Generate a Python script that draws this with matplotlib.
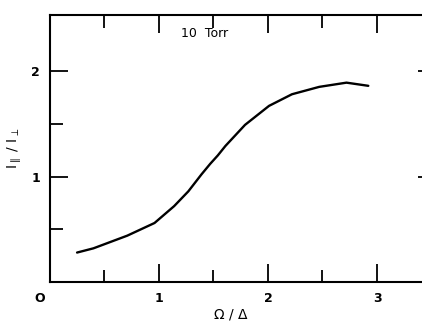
import numpy as np
import matplotlib.pyplot as plt
import matplotlib.transforms as mtransforms
from matplotlib.ticker import FixedLocator

# curve
omega = [0.25, 0.40, 0.71, 0.96, 1.14, 1.27, 1.39, 1.47, 1.54, 1.61, 1.79,
         2.01, 2.22, 2.47, 2.72, 2.92]
ratio = [0.28, 0.32, 0.44, 0.56, 0.72, 0.86, 1.02, 1.12, 1.20, 1.29, 1.49,
         1.67, 1.78, 1.85, 1.89, 1.86]
xticks = [0, 1, 2, 3]
xticklabels = ['O', '1', '2', '3']
xminor = [0.5, 1.5, 2.5]
yticks = [1, 2]
yticklabels = ['1', '2']
yminor = [0.5, 1.5]

fig = plt.figure(figsize=(4.22, 3.25), dpi=100)
ax = fig.add_axes([0.118, 0.132, 0.915, 0.8215])

ax.plot(omega, ratio, color='black', lw=1.7, solid_capstyle='round')

ax.set_xlim(0, 3.54)
ax.set_ylim(0, 2.53)
ax.set_xticks(xticks)
ax.set_xticklabels(xticklabels)
ax.set_yticks(yticks)
ax.set_yticklabels(yticklabels)
ax.xaxis.set_minor_locator(FixedLocator(xminor))
ax.yaxis.set_minor_locator(FixedLocator(yminor))
ax.tick_params(which='both', direction='in', top=True, right=True,
               width=1.3, labelsize=9)
ax.tick_params(which='major', length=13, pad=7)
ax.tick_params(which='minor', length=9)
ax.tick_params(axis='y', which='minor', right=False)
for lab in ax.get_xticklabels() + ax.get_yticklabels():
    lab.set_fontweight('bold')
# the "0" sits left of the corner in the original
lab0 = ax.get_xticklabels()[0]
lab0.set_transform(lab0.get_transform() +
                   mtransforms.ScaledTranslation(-0.1, 0, fig.dpi_scale_trans))
for s in ax.spines.values():
    s.set_linewidth(1.5)

ax.text(1.2, 2.36, '10  Torr', fontsize=9, va='center')
ax.set_xlabel(r'$\mathregular{\Omega\ /\ \Delta}$', fontsize=10, labelpad=4)
ax.set_ylabel(r'$\mathregular{I_{\parallel}\ /\ I_{\perp}}$', fontsize=10, labelpad=5)
ax.xaxis.set_label_coords(0.47, -0.095)

plt.savefig('out.png', dpi=100)
